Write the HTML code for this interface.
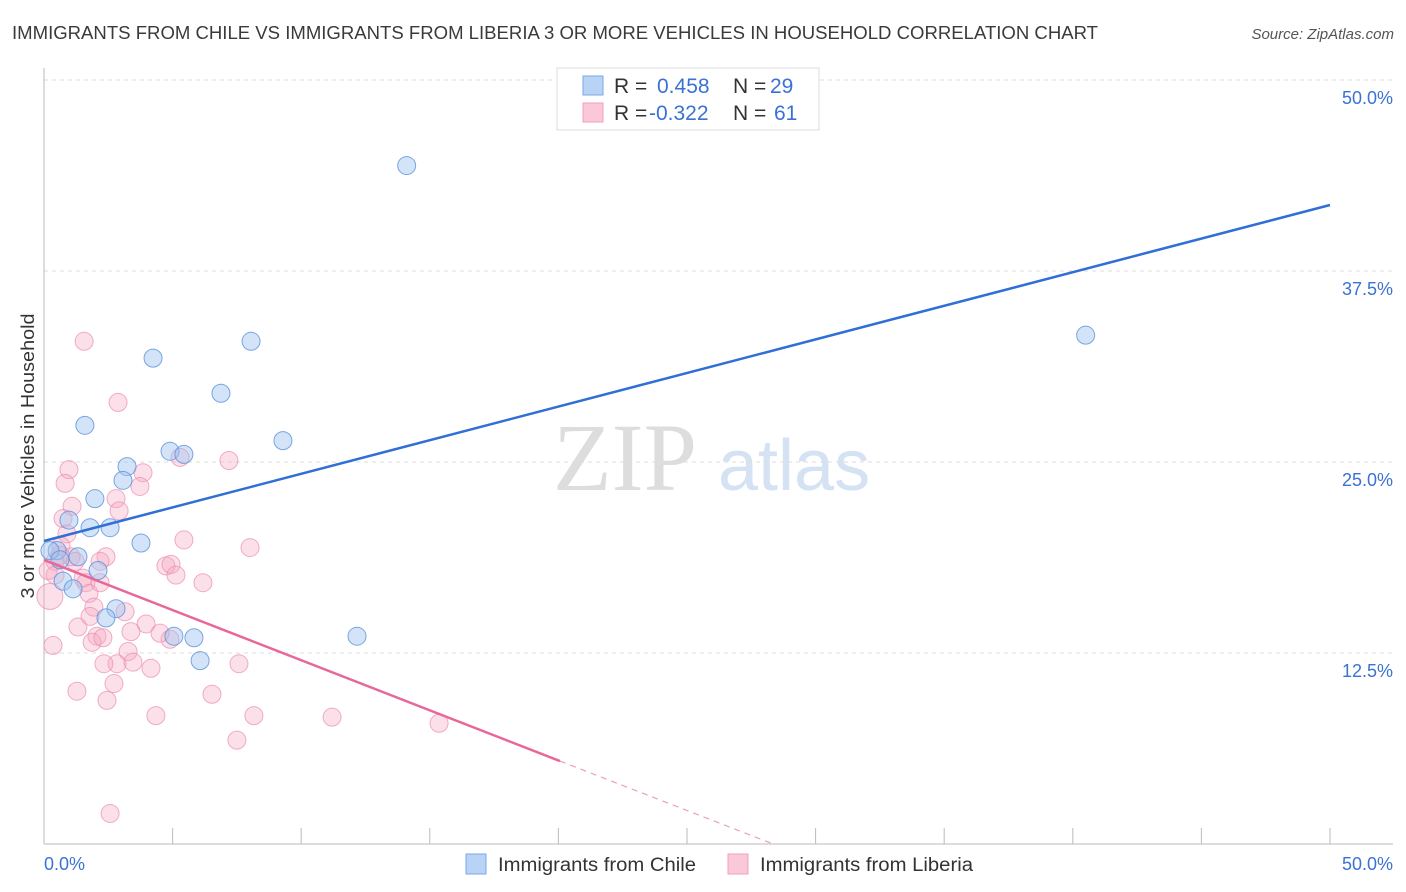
<!DOCTYPE html>
<html><head><meta charset="utf-8"><style>
body{margin:0;background:#fff;width:1406px;height:892px;overflow:hidden;font-family:"Liberation Sans",sans-serif;}
svg{position:absolute;left:0;top:0}
</style></head><body>
<svg id="chart" width="1406" height="892" xmlns="http://www.w3.org/2000/svg">
<text x="12" y="39" font-size="18" fill="#3a3a3a" textLength="1086" lengthAdjust="spacingAndGlyphs">IMMIGRANTS FROM CHILE VS IMMIGRANTS FROM LIBERIA 3 OR MORE VEHICLES IN HOUSEHOLD CORRELATION CHART</text>
<text x="1394" y="39" font-size="15" fill="#555" font-style="italic" text-anchor="end">Source: ZipAtlas.com</text>
<text transform="translate(34,456) rotate(-90)" font-size="18" fill="#333" text-anchor="middle" textLength="285" lengthAdjust="spacingAndGlyphs">3 or more Vehicles in Household</text>
<text x="553" y="490" font-size="96" fill="#ddd" font-family="Liberation Serif,serif">ZIP</text>
<text x="718" y="490" font-size="72" fill="#d4e2f4">atlas</text>
<g id="grid"></g><g id="axes"></g><g id="pts"></g><g id="lines"></g>
<g>
<rect x="557" y="68" width="262" height="62" fill="#fff" stroke="#ddd"/>
<rect x="583" y="76" width="20" height="19" fill="#b8d3f5" stroke="#7aa8e8"/>
<rect x="583" y="103" width="20" height="19" fill="#fbc8d8" stroke="#f0a0bb"/>
<text x="614" y="93" font-size="21" fill="#333">R = <tspan fill="#3a72d4" x="657">0.458</tspan><tspan x="733" fill="#333">N = </tspan><tspan fill="#3a72d4" x="770">29</tspan></text>
<text x="614" y="120" font-size="21" fill="#333">R = <tspan fill="#3a72d4" x="649">-0.322</tspan><tspan x="733" fill="#333">N = </tspan><tspan fill="#3a72d4" x="774">61</tspan></text>
</g>
<g>
<rect x="466" y="854" width="20" height="20" fill="#b8d3f5" stroke="#7aa8e8"/>
<text x="498" y="871" font-size="19" fill="#333" textLength="198" lengthAdjust="spacingAndGlyphs">Immigrants from Chile</text>
<rect x="728" y="854" width="20" height="20" fill="#fbc8d8" stroke="#f0a0bb"/>
<text x="760" y="871" font-size="19" fill="#333" textLength="213" lengthAdjust="spacingAndGlyphs">Immigrants from Liberia</text>
</g>
</svg>
<script>
const yTicks=[12.5,25,37.5,50];
const yTickLabels=["12.5%","25.0%","37.5%","50.0%"];
const xTicks=[0,5,10,15,20,25,30,35,40,45,50];
const chileX=[14.1,40.5,4.24,8.05,6.88,1.59,9.29,4.90,5.44,3.23,3.07,1.98,0.97,1.79,2.57,3.77,0.51,1.32,0.23,0.62,2.10,0.74,1.13,2.80,2.41,5.05,5.83,12.17,6.07];
const chileY=[44.4,33.3,31.8,32.9,29.5,27.4,26.4,25.7,25.5,24.7,23.8,22.6,21.2,20.7,20.7,19.7,19.2,18.8,19.2,18.6,17.9,17.2,16.7,15.4,14.8,13.6,13.5,13.6,12.0];
const liberiaX=[1.56,2.88,0.97,0.82,3.85,3.73,2.80,2.92,1.09,0.74,0.89,0.66,2.41,1.05,0.43,0.16,0.23,1.52,1.63,1.75,1.94,3.15,1.32,1.79,2.06,3.97,3.38,1.87,0.35,2.29,5.44,8.01,7.19,5.29,4.74,4.94,6.18,4.90,2.84,2.33,3.27,3.46,4.16,1.28,2.72,6.53,4.35,8.16,11.2,15.36,7.50,2.45,7.58,2.57,0.62,2.18,1.21,0.43,4.51,5.13,2.18];
const liberiaY=[32.9,28.9,24.5,23.6,24.3,23.4,22.6,21.8,22.1,21.3,20.3,19.5,18.8,18.8,18.5,17.9,16.2,17.4,17.1,16.4,15.5,15.2,14.2,14.9,13.6,14.4,13.9,13.2,13.0,13.5,19.9,19.4,25.1,25.3,18.2,18.3,17.1,13.4,11.8,11.8,12.6,11.9,11.5,10.0,10.5,9.8,8.4,8.4,8.3,7.9,6.8,9.4,11.8,2.0,18.9,17.1,18.5,17.6,13.8,17.6,18.5];
const X=v=>44+v*25.72, Y=v=>844-v*15.28;
const NS="http://www.w3.org/2000/svg";
function mk(tag,attrs,parent){const e=document.createElementNS(NS,tag);for(const k in attrs)e.setAttribute(k,attrs[k]);document.getElementById(parent).appendChild(e);return e;}
yTicks.forEach((t,i)=>{
 const g=mk('line',{x1:44,x2:1393,y1:Y(t),y2:Y(t),stroke:'#ddd','stroke-dasharray':'4,4'},'grid');
 
 
 const l=mk('text',{x:1393,y:Y(t)+24,'font-size':18,fill:'#3a72d4','text-anchor':'end'},'grid');
 l.textContent=yTickLabels[i];
 
 
});
const ax=mk('line',{x1:44,x2:44,y1:68,y2:844,stroke:'#bbb'},'axes');


const bx=mk('line',{x1:44,x2:1393,y1:844,y2:844,stroke:'#bbb'},'axes');


xTicks.forEach(t=>{const k=mk('line',{x1:X(t),x2:X(t),y1:828,y2:844,stroke:'#bbb'},'axes');
 
 });
const x0=mk('text',{x:44,y:870,'font-size':18,fill:'#3a72d4'},'axes');x0.textContent='0.0%';


const x1=mk('text',{x:1393,y:870,'font-size':18,fill:'#3a72d4','text-anchor':'end'},'axes');x1.textContent='50.0%';


liberiaX.forEach((v,i)=>{const r=(i==16)?13:9;
 const c=mk('circle',{cx:X(v),cy:Y(liberiaY[i]),r:r,fill:'rgba(245,165,192,0.35)',stroke:'rgba(235,140,175,0.7)','stroke-width':1},'pts');
 
 });
chileX.forEach((v,i)=>{const c=mk('circle',{cx:X(v),cy:Y(chileY[i]),r:9,fill:'rgba(160,196,240,0.45)',stroke:'rgba(90,145,220,0.8)','stroke-width':1},'pts');
 
 });
const bl=mk('line',{x1:X(0),y1:Y(19.83),x2:X(50),y2:Y(41.82),stroke:'#2f6fd6','stroke-width':2.5},'lines');


const pl=mk('line',{x1:X(0),y1:Y(18.59),x2:X(20.06),y2:Y(5.43),stroke:'#e8679a','stroke-width':2.5},'lines');


const pd=mk('line',{x1:X(20.06),y1:Y(5.43),x2:X(28.35),y2:Y(0),stroke:'#e8a0bb','stroke-width':1.2,'stroke-dasharray':'6,5'},'lines');


</script>
</body></html>
